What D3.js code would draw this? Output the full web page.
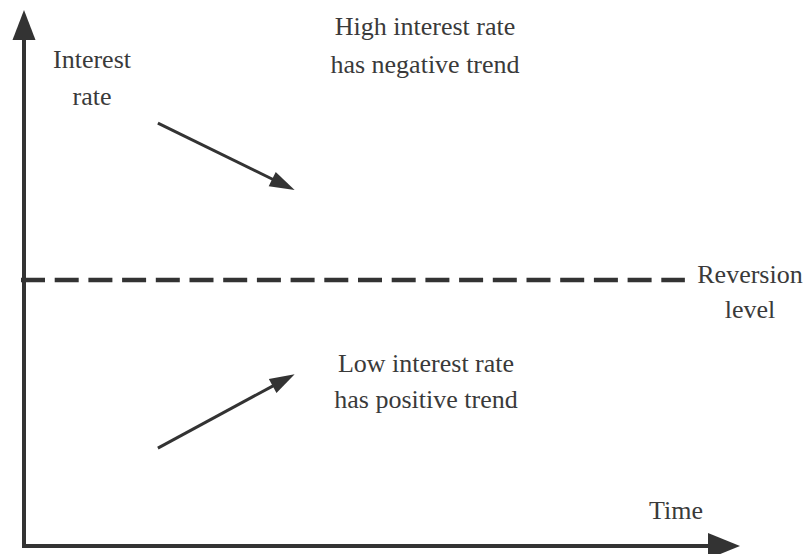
<!DOCTYPE html>
<html>
<head>
<meta charset="utf-8">
<script src="https://cdn.jsdelivr.net/npm/d3@7"></script>
<style>
  html, body { margin: 0; padding: 0; background: #fff; }
  svg { display: block; }
  text { font-family: "Liberation Serif", "Times New Roman", serif; fill: #3a3a3a; }
</style>
</head>
<body>
<script>
// ---- data (conceptual units: time 0..10, interest rate 0..10) ----
const axisLabels = ["Interest", "rate"];
const timeLabel = ["Time"];
const reversionLabel = ["Reversion", "level"];
const reversionLevel = [5];
const highLabel = ["High interest rate", "has negative trend"];
const lowLabel = ["Low interest rate", "has positive trend"];
// trend arrows: [time start, rate start, time end, rate end]
const highTrend = [1.87, 7.95, 3.78, 6.69];
const lowTrend = [1.87, 1.84, 3.78, 3.23];
const reversionSpan = [0, 9.23];
const timeMax = [10];
const rateMax = [10.075];

// ---- layout ----
const W = 808, H = 554;
const svg = d3.select("body").append("svg").attr("width", W).attr("height", H);
const x = d3.scaleLinear().domain([0, timeMax[0]]).range([24, 740]);
const y = d3.scaleLinear().domain([0, rateMax[0]]).range([546, 10]);
const ink = "#333";

function arrow(x1, y1, x2, y2, sw, len, half) {
  const ang = Math.atan2(y2 - y1, x2 - x1);
  const bx = x2 - len * Math.cos(ang), by = y2 - len * Math.sin(ang);
  svg.append("line").attr("x1", x1).attr("y1", y1).attr("x2", bx + Math.cos(ang)).attr("y2", by + Math.sin(ang))
    .attr("stroke", ink).attr("stroke-width", sw);
  const px = -Math.sin(ang), py = Math.cos(ang);
  svg.append("path")
    .attr("d", `M${x2},${y2}L${bx + half * px},${by + half * py}L${bx - half * px},${by - half * py}Z`)
    .attr("fill", ink);
}

// axes
arrow(x(0), y(0) + 2, x(0), y(rateMax[0]), 4, 30, 11.5);
arrow(x(0) - 2, y(0), x(timeMax[0]), y(0), 4, 32, 13);

// reversion level dashed line
svg.append("line")
  .attr("x1", x(reversionSpan[0]) - 3).attr("x2", x(reversionSpan[1]))
  .attr("y1", y(reversionLevel[0])).attr("y2", y(reversionLevel[0]))
  .attr("stroke", ink).attr("stroke-width", 4.5)
  .attr("stroke-dasharray", "24,9.7");

// trend arrows
[highTrend, lowTrend].forEach(a => arrow(x(a[0]), y(a[1]), x(a[2]), y(a[3]), 3, 25, 8));

// labels
function label(lines, cx, baseline, gap) {
  const t = svg.append("text").attr("text-anchor", "middle").attr("font-size", 26);
  lines.forEach((s, i) => t.append("tspan").attr("x", cx).attr("y", baseline + i * gap).text(s));
}
label(axisLabels, 92, 68, 37);
label(highLabel, 425, 35, 38);
label(lowLabel, 426, 372, 36);
label(reversionLabel, 750, 283, 35);
label(timeLabel, 676, 519, 0);
</script>
</body>
</html>
